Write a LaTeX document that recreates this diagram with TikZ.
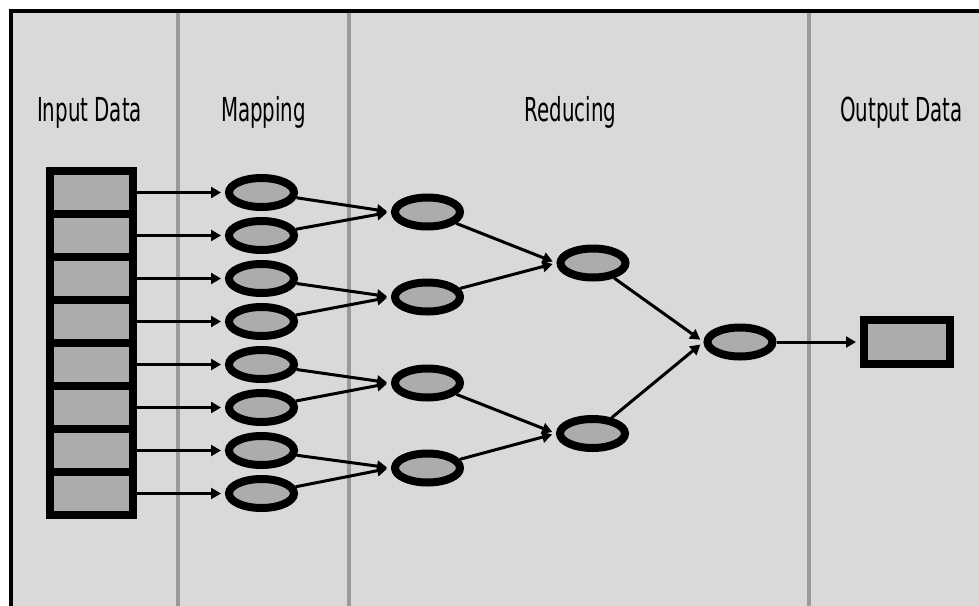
\documentclass[tikz,border=0pt]{standalone}
\usepackage{fontspec}
\setmainfont{DejaVu Sans}
\usetikzlibrary{arrows.meta,shapes.geometric}
\definecolor{panel}{HTML}{D9D9D9}
\definecolor{cellgray}{HTML}{ACACAC}
\definecolor{divider}{HTML}{9A9A9A}
\tikzset{
  cell/.style={rectangle, draw=black, line width=8pt, fill=cellgray,
    minimum width=83pt, minimum height=43pt, inner sep=0pt},
  job/.style={ellipse, draw=black, line width=8pt, fill=cellgray,
    minimum width=65pt, minimum height=29pt, inner sep=0pt},
  result/.style={rectangle, draw=black, line width=8pt, fill=cellgray,
    minimum width=86pt, minimum height=44pt, inner sep=0pt},
  flow/.style={line width=3pt, -{Triangle[length=10pt,width=11pt]}, shorten >=4pt},
  heading/.style={anchor=base, inner sep=0pt, font=\fontsize{33}{36}\selectfont},
  lane/.style={divider, line width=3.5pt}
}
\newcommand{\narrow}[1]{\scalebox{0.6}[1]{#1}}
\begin{document}
\begin{tikzpicture}[x=1pt,y=-1pt]
  \useasboundingbox (0,0) rectangle (979,605);
  \clip (0,0) rectangle (979,605);
  % panel and stage separators
  \fill[panel] (10.5,11) rectangle (1000,620);
  \foreach \x in {178,349,809} \draw[lane] (\x,11) -- (\x,620);
  \draw[line width=4pt] (1000,11) -- (10.5,11) -- (10.5,620);

  % stage titles
  \node[heading] (tin)  at (89.5,121)  {\narrow{Input Data}};
  \node[heading] (tmap) at (263.5,121) {\narrow{Mapping}};
  \node[heading] (tred) at (570.5,121) {\narrow{Reducing}};
  \node[heading] (tout) at (901.5,121) {\narrow{Output Data}};

  % input blocks and map tasks
  \foreach \k [evaluate=\k as \y using 192.5+43*(\k-1)] in {1,...,8} {
    \node[cell] (c\k) at (91.5,\y) {};
    \node[job]  (m\k) at (261.5,\y) {};
  }
  \foreach \k in {1,...,8} \draw[flow] (c\k.east) -- (m\k.west);

  % reduce tree
  \node[job] (r1) at (427.5,212) {};
  \node[job] (r2) at (427.5,297) {};
  \node[job] (r3) at (427.5,383) {};
  \node[job] (r4) at (427.5,468) {};
  \node[job] (s1) at (593,263) {};
  \node[job] (s2) at (592.5,433.5) {};
  \node[job] (t)  at (740,342) {};
  \node[result] (o) at (907,342) {};

  \draw[flow] (m1) -- (r1.west);
  \draw[flow] (m2) -- (r1.west);
  \draw[flow] (m3) -- (r2.west);
  \draw[flow] (m4) -- (r2.west);
  \draw[flow] (m5) -- (r3.west);
  \draw[flow] (m6) -- (r3.west);
  \draw[flow] (m7) -- (r4.west);
  \draw[flow] (m8) -- (r4.west);
  \draw[flow] (r1) -- (s1.west);
  \draw[flow] (r2) -- (s1.west);
  \draw[flow] (r3) -- (s2.west);
  \draw[flow] (r4) -- (s2.west);
  \draw[flow] (s1) -- (t.west);
  \draw[flow] (s2) -- (t.west);
  \draw[flow] (t.east) -- (o.west);
\end{tikzpicture}
\end{document}
